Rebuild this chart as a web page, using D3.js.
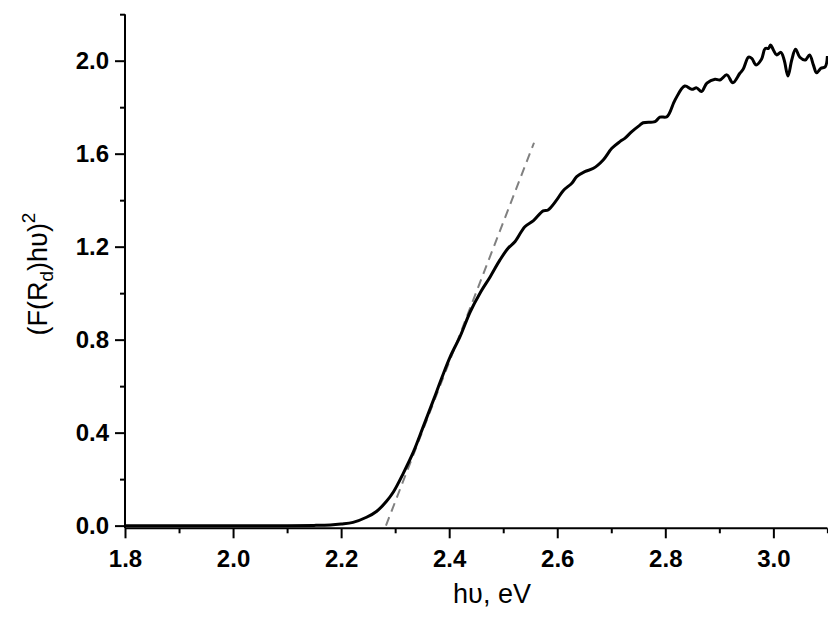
<!DOCTYPE html>
<html>
<head>
<meta charset="utf-8">
<script src="https://cdn.jsdelivr.net/npm/d3@7"></script>
<style>
    body { margin: 0; background: #fff; }
    text { font-family: "Liberation Sans", Arial, sans-serif; }
</style>
</head>
<body>
<svg id="chart" width="828" height="617"></svg>
<script>
// photon energy (eV) and (F(Rd)hv)^2
const energy = [
    1.80, 1.90, 2.00, 2.10, 2.15, 2.18, 2.20, 2.222, 2.247, 2.266, 2.284, 2.297,
    2.315, 2.334, 2.352, 2.371, 2.386, 2.402, 2.420, 2.439, 2.457, 2.476, 2.494,
    2.509, 2.522, 2.540, 2.556, 2.574, 2.583, 2.599, 2.611, 2.627, 2.636, 2.651,
    2.667, 2.685, 2.701, 2.716, 2.725, 2.738, 2.753, 2.759, 2.781, 2.790, 2.803,
    2.818, 2.836, 2.849, 2.858, 2.867, 2.877, 2.892, 2.901, 2.914, 2.925, 2.938,
    2.944, 2.954, 2.960, 2.968, 2.978, 2.985, 2.991, 2.995, 3.000, 3.006, 3.014,
    3.020, 3.027, 3.034, 3.041, 3.049, 3.059, 3.067, 3.074, 3.080, 3.088, 3.096,
    3.100
];
const absorb = [
    0.000, 0.000, 0.000, 0.000, 0.001, 0.003, 0.007, 0.014, 0.036, 0.062, 0.105, 0.146,
    0.225, 0.318, 0.426, 0.541, 0.634, 0.727, 0.813, 0.920, 1.000, 1.071, 1.143,
    1.193, 1.222, 1.286, 1.312, 1.354, 1.358, 1.401, 1.441, 1.473, 1.501, 1.523,
    1.537, 1.573, 1.623, 1.652, 1.666, 1.695, 1.723, 1.733, 1.738, 1.757, 1.759,
    1.831, 1.891, 1.877, 1.883, 1.867, 1.903, 1.920, 1.917, 1.939, 1.905, 1.946,
    1.963, 2.015, 2.010, 1.982, 2.006, 2.053, 2.053, 2.068, 2.046, 2.025, 2.036,
    2.003, 1.934, 2.003, 2.049, 2.015, 2.003, 2.025, 1.982, 1.948, 1.967, 1.974,
    2.020
];
// tangent used for the band gap estimate
const fitX = [2.283, 2.557];
const fitY = [0.0, 1.647];

const xMajor = [1.8, 2.0, 2.2, 2.4, 2.6, 2.8, 3.0];
const xMinor = [1.9, 2.1, 2.3, 2.5, 2.7, 2.9, 3.1];
const yMajor = [0.0, 0.4, 0.8, 1.2, 1.6, 2.0];
const yMinor = [0.2, 0.6, 1.0, 1.4, 1.8, 2.2];

const svg = d3.select("#chart");

const x = d3.scaleLinear().domain([1.8, 3.1]).range([125, 827.4]);
const y = d3.scaleLinear().domain([-0.0115, 2.2]).range([528.3, 14.2]);

const data = energy.map((e, i) => ({ e: e, v: absorb[i] }));

// the tangent (drawn under the curve)
svg.append("line")
    .attr("x1", x(fitX[0]))
    .attr("y1", y(fitY[0]))
    .attr("x2", x(fitX[1]))
    .attr("y2", y(fitY[1]))
    .attr("stroke", "#808080")
    .attr("stroke-width", 2)
    .attr("stroke-dasharray", "9,6");

// the spectrum
svg.append("path")
    .datum(data)
    .attr("fill", "none")
    .attr("stroke", "#000")
    .attr("stroke-width", 3)
    .attr("stroke-linejoin", "round")
    .attr("d", d3.line()
        .x((d) => x(d.e))
        .y((d) => y(d.v))
        .curve(d3.curveCatmullRom.alpha(0.5)));

// X axis
const xAxis = svg.append("g").attr("transform", `translate(0,${y.range()[0]})`);
xAxis.call(d3.axisBottom(x).tickValues(xMajor).tickSize(10).tickPadding(12).tickFormat(d3.format(".1f")));
xAxis.append("g").call(d3.axisBottom(x).tickValues(xMinor).tickSize(5).tickFormat(""));

// Y axis
const yAxis = svg.append("g").attr("transform", `translate(${x.range()[0]},0)`);
yAxis.call(d3.axisLeft(y).tickValues(yMajor).tickSize(10).tickPadding(6).tickFormat(d3.format(".1f")));
yAxis.append("g").call(d3.axisLeft(y).tickValues(yMinor).tickSize(5).tickFormat(""));

svg.selectAll(".domain").attr("stroke", "#000").attr("stroke-width", 2);
svg.selectAll(".tick line").attr("stroke", "#000").attr("stroke-width", 2);
svg.selectAll(".tick text")
    .attr("fill", "#000")
    .style("font-family", "'Liberation Sans', Arial, sans-serif")
    .style("font-size", "24px")
    .style("font-weight", "bold");

// strip the outer end caps so the axes are plain lines
xAxis.selectAll(".domain").attr("d", `M${x.range()[0]},0H${x.range()[1]}`);
yAxis.selectAll(".domain").attr("d", `M0,${y.range()[0]}V${y.range()[1]}`);
xAxis.selectAll("g > g .domain").remove();
yAxis.selectAll("g > g .domain").remove();

// axis titles
svg.append("text")
    .attr("x", 492)
    .attr("y", 603)
    .attr("text-anchor", "middle")
    .style("font-size", "27px")
    .text("h\u03c5, eV");

const yTitle = svg.append("text")
    .attr("transform", "translate(47,274) rotate(-90)")
    .attr("text-anchor", "middle")
    .style("font-size", "27px");
yTitle.append("tspan").text("(F(R");
yTitle.append("tspan").attr("dy", 6).style("font-size", "19px").text("d");
yTitle.append("tspan").attr("dy", -6).text(")h\u03c5)");
yTitle.append("tspan").attr("dy", -12).style("font-size", "19px").text("2");
</script>
</body>
</html>
